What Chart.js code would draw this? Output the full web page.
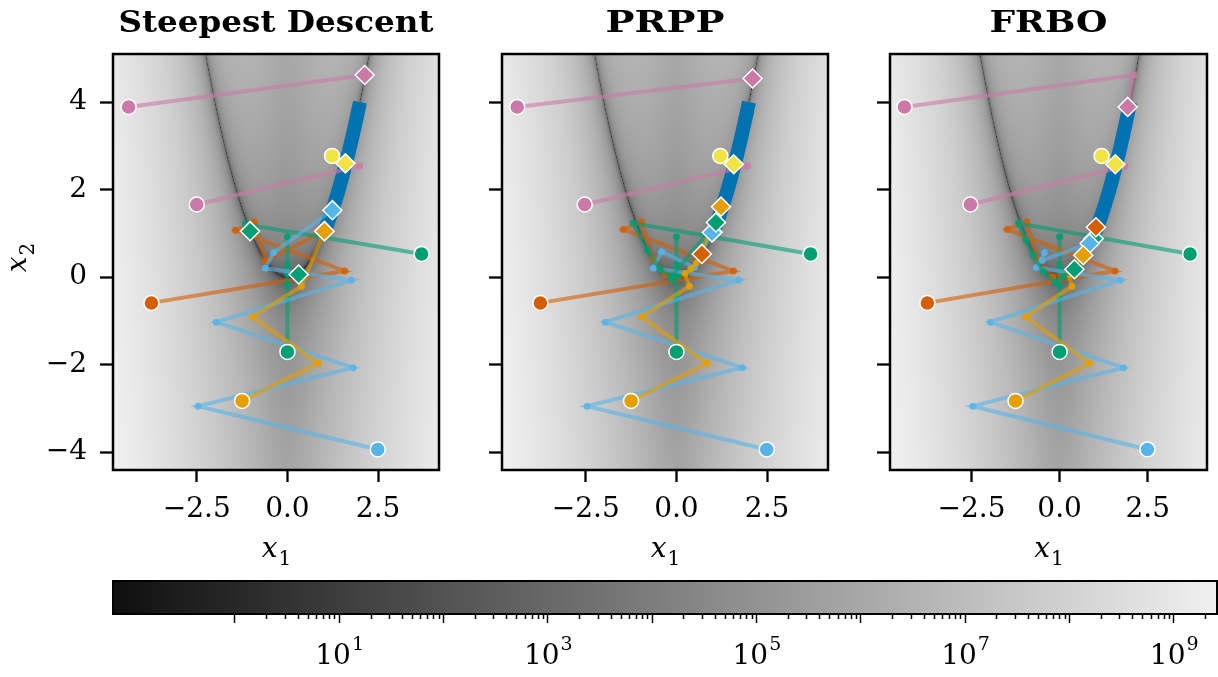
<!DOCTYPE html>
<html>
<head>
<meta charset="utf-8">
<script src="https://cdn.jsdelivr.net/npm/chart.js@4.4.1/dist/chart.umd.min.js"></script>
<style>
  body { margin: 0; background: #fff; width: 1218px; height: 677px; overflow: hidden; position: relative; }
  canvas { position: absolute; top: 0; }
</style>
</head>
<body>
<canvas id="sd" width="450" height="580" style="left:0px"></canvas>
<canvas id="pr" width="450" height="580" style="left:389px"></canvas>
<canvas id="fr" width="441" height="580" style="left:777px"></canvas>
<canvas id="cbar" width="1218" height="117" style="top:560px;left:0px"></canvas>
<script>
// axis limits and ticks
const xMin = -4.81, xMax = 4.18
const yMin = -4.41, yMax = 5.10
const xTicks = [-2.5, 0, 2.5]
const yTicks = [-4, -2, 0, 2, 4]

// colorbar
const cbarMin = 0.068, cbarMax = 2.6e9
const cbarTicks = [1, 1e1, 1e2, 1e3, 1e4, 1e5, 1e6, 1e7, 1e8, 1e9]
const cbarExp = ['', '1', '', '3', '', '5', '', '7', '', '9']

// blue band along the valley
const bandX = [1.0, 1.1, 1.2, 1.3, 1.4, 1.5, 1.6, 1.7, 1.8, 1.9, 2.0]
const bandY = [1.0, 1.21, 1.44, 1.69, 1.96, 2.25, 2.56, 2.89, 3.24, 3.61, 4.0]

// Steepest Descent runs
const sdPinkA = [[-4.38, 3.89], [2.13, 4.62]]
const sdPinkB = [[-2.50, 1.66], [1.99, 2.54]]
const sdYellow = [[1.23, 2.77], [1.60, 2.60]]
const sdGreenA = [[3.70, 0.53], [-1.16, 1.21], [-1.03, 1.05]]
const sdGreenB = [[0, -1.71], [0, 0.92], [0, -0.49], [0, 0.27], [0, -0.18], [0, 0.08], [0.31, 0.06]]
const sdVerm = [[-3.75, -0.59], [1.58, 0.14], [-1.43, 1.07], [-0.91, 1.26], [-0.61, 0.37], [1.02, 1.05]]
const sdOrange = [[-1.25, -2.83], [0.85, -1.97], [-0.96, -0.91], [0.39, -0.21], [1.02, 1.05]]
const sdSky = [[2.49, -3.94], [-2.46, -2.95], [1.81, -2.07], [-1.96, -1.03], [1.76, -0.07], [-0.61, 0.20], [-0.38, 0.56], [1.24, 1.53]]

// PRPP runs
const prPinkA = [[-4.39, 3.89], [2.10, 4.54]]
const prPinkB = [[-2.53, 1.66], [1.96, 2.54]]
const prYellow = [[1.21, 2.77], [1.58, 2.58]]
const prGreenA = [[3.70, 0.53], [-1.19, 1.23], [-0.80, 0.62], [-0.45, 0.18], [-0.15, 0.0], [0.82, 0.96], [1.09, 1.25]]
const prGreenB = [[0, -1.71], [0, 0.92], [0, -0.49], [0, 0.27], [-0.12, -0.05], [0.05, 0.04], [0.45, 0.22], [1.00, 1.03]]
const prVerm = [[-3.75, -0.59], [1.57, 0.14], [-1.46, 1.09], [-0.96, 1.26], [-0.65, 0.42], [-0.30, 0.05], [0.05, 0.02], [0.38, 0.16], [0.70, 0.53]]
const prOrange = [[-1.25, -2.83], [0.85, -1.97], [-0.96, -0.91], [0.36, -0.21], [0.23, 0.08], [0.40, 0.19], [0.55, 0.32], [1.23, 1.61]]
const prSky = [[2.49, -3.94], [-2.46, -2.95], [1.81, -2.07], [-1.96, -1.03], [1.71, -0.07], [-0.64, 0.20], [-0.41, 0.58], [0.50, 0.22], [0.98, 1.02]]

// FRBO runs
const frPinkA = [[-4.40, 3.89], [2.10, 4.62], [1.93, 3.89]]
const frPinkB = [[-2.53, 1.66], [1.85, 2.54]]
const frYellow = [[1.19, 2.77], [1.58, 2.58]]
const frGreenA = [[3.70, 0.53], [-1.16, 1.23], [-0.95, 0.85], [-0.75, 0.50], [-0.45, 0.12], [-0.12, -0.12], [0.12, 0.02], [0.42, 0.18]]
const frGreenB = [[0, -1.71], [0, 0.92], [0, -0.49], [0, 0.27], [0, -0.18], [0.05, 0.08], [0.50, 0.30], [0.97, 0.88]]
const frVerm = [[-3.75, -0.59], [1.57, 0.14], [-1.48, 1.09], [-0.93, 1.26], [-0.62, 0.40], [-0.20, 0.0], [0.30, 0.10], [1.03, 1.14]]
const frOrange = [[-1.25, -2.83], [0.85, -1.97], [-0.96, -0.91], [0.35, -0.21], [0.25, 0.06], [0.67, 0.50]]
const frSky = [[2.49, -3.94], [-2.46, -2.95], [1.81, -2.07], [-1.96, -1.03], [1.71, -0.07], [-0.66, 0.22], [-0.43, 0.56], [-0.50, 0.38], [0.85, 0.77]]

const pink = '#CC79A7', verm = '#D55E00', orange = '#E69F00', green = '#009E73'
const sky = '#56B4E9', yellow = '#F0E442', blue = '#0072B2'

// background: squared gradient norm of the Rosenbrock function, log grey scale
const grayLo = 15, grayHi = 240

Chart.defaults.font.family = '"DejaVu Serif", serif'
Chart.defaults.color = '#000'

function hexA(hex, a) {
  const n = parseInt(hex.slice(1), 16)
  return `rgba(${n >> 16},${(n >> 8) & 255},${n & 255},${a})`
}
const pts = arr => arr.map(p => ({x: p[0], y: p[1]}))
const fmt = (v, d) => (v < 0 ? '\u2212' : '') + Math.abs(v).toFixed(d)

function field(x1, x2) {
  const g = x2 - x1 * x1
  const d1 = 2 * (x1 - 1) - 400 * x1 * g
  const d2 = 200 * g
  return d1 * d1 + d2 * d2
}

const fieldPlugin = {
  id: 'field',
  beforeDatasetsDraw(chart) {
    const {ctx, chartArea: a, scales: {x, y}} = chart
    if (!chart.$field) {
      const w = Math.round(a.right - a.left), h = Math.round(a.bottom - a.top)
      const off = document.createElement('canvas')
      off.width = w; off.height = h
      const octx = off.getContext('2d')
      const img = octx.createImageData(w, h)
      const lo = Math.log10(cbarMin), hi = Math.log10(cbarMax)
      const xs = []
      for (let i = 0; i < w; i++) xs.push(x.getValueForPixel(a.left + i + 0.5))
      for (let j = 0; j < h; j++) {
        const yv = y.getValueForPixel(a.top + j + 0.5)
        for (let i = 0; i < w; i++) {
          let t = (Math.log10(field(xs[i], yv)) - lo) / (hi - lo)
          t = Math.max(0, Math.min(1, t))
          const v = grayLo + t * (grayHi - grayLo)
          const k = (j * w + i) * 4
          img.data[k] = img.data[k + 1] = img.data[k + 2] = v
          img.data[k + 3] = 255
        }
      }
      octx.putImageData(img, 0, 0)
      chart.$field = off
    }
    ctx.drawImage(chart.$field, a.left, a.top, a.right - a.left, a.bottom - a.top)
  }
}

function drawSub(ctx, main, sub, size) {
  ctx.font = `italic ${size}px "DejaVu Serif"`
  const w1 = ctx.measureText(main).width
  ctx.font = `${Math.round(size * 0.7)}px "DejaVu Serif"`
  const w2 = ctx.measureText(sub).width
  const x0 = -(w1 + w2) / 2
  ctx.textAlign = 'left'
  ctx.textBaseline = 'alphabetic'
  ctx.font = `italic ${size}px "DejaVu Serif"`
  ctx.fillText(main, x0, 0)
  ctx.font = `${Math.round(size * 0.7)}px "DejaVu Serif"`
  ctx.fillText(sub, x0 + w1 + 1, 8)
}

const framePlugin = {
  id: 'frame',
  afterDatasetsDraw(chart) {
    const {ctx, chartArea: a} = chart
    ctx.save()
    ctx.lineWidth = 2.5
    ctx.strokeStyle = '#000'
    ctx.strokeRect(a.left, a.top, a.right - a.left, a.bottom - a.top)
    ctx.restore()
  },
  afterDraw(chart, args, opts) {
    const {ctx, chartArea: a} = chart
    const cx = (a.left + a.right) / 2
    ctx.save()
    ctx.fillStyle = '#000'
    // panel title
    ctx.font = 'bold 30px "DejaVu Serif"'
    const tw = ctx.measureText(opts.title).width
    ctx.translate(cx, 32)
    ctx.scale(opts.titleWidth / tw, 1)
    ctx.textAlign = 'center'
    ctx.textBaseline = 'alphabetic'
    ctx.fillText(opts.title, 0, 0)
    ctx.restore()
    // x label
    ctx.save()
    ctx.fillStyle = '#000'
    ctx.translate(cx, 557)
    drawSub(ctx, 'x', '1', 28)
    ctx.restore()
    if (opts.yLabel) {
      ctx.save()
      ctx.fillStyle = '#000'
      ctx.translate(26, (a.top + a.bottom) / 2 - 4)
      ctx.rotate(-Math.PI / 2)
      drawSub(ctx, 'x', '2', 28)
      ctx.restore()
    }
  }
}

function makePanel(id, runs, title, titleWidth, showY, padRight) {
  const lines = [], marks = []
  runs.forEach(r => {
    const n = r.pts.length
    lines.push({
      data: pts(r.pts), showLine: true,
      borderColor: hexA(r.color, 0.6), borderWidth: 4,
      pointRadius: c => (c.dataIndex === 0 || (c.dataIndex === n - 1 && r.end)) ? 0 : 3.5,
      pointBackgroundColor: hexA(r.color, 0.85), pointBorderWidth: 0
    })
    const first = r.pts[0], last = r.pts[n - 1]
    const m = [{x: first[0], y: first[1]}]
    if (r.end) m.push({x: last[0], y: last[1]})
    marks.push({
      data: m,
      pointStyle: ['circle', 'rectRot'],
      pointRadius: [7.5, 9.5],
      pointBackgroundColor: r.color,
      pointBorderColor: '#fff',
      pointBorderWidth: 1.5
    })
  })
  const band = {
    data: bandX.map((x, i) => ({x, y: bandY[i]})), showLine: true,
    borderColor: blue, borderWidth: 14, borderCapStyle: 'butt', borderJoinStyle: 'round', pointRadius: 0
  }
  const datasets = [band, ...lines, ...marks]
  datasets.forEach((d, i) => { d.order = datasets.length - i })

  const tickFont = {size: 28, family: '"DejaVu Serif"'}
  return new Chart(document.getElementById(id), {
    type: 'scatter',
    data: {datasets},
    options: {
      responsive: false, animation: false, events: [],
      layout: {padding: {top: 54, right: padRight, left: 0, bottom: 0}},
      plugins: {
        legend: {display: false}, tooltip: {enabled: false},
        frame: {title, titleWidth, yLabel: showY}
      },
      scales: {
        x: {
          type: 'linear', min: xMin, max: xMax,
          afterBuildTicks: ax => { ax.ticks = xTicks.map(v => ({value: v})) },
          afterFit: ax => { ax.height = 110 },
          ticks: {callback: v => fmt(v, 1), font: tickFont, color: '#000', padding: 11, maxRotation: 0, autoSkip: false},
          grid: {drawOnChartArea: false, tickLength: 12, tickWidth: 2.3, tickColor: '#000'},
          border: {display: false}
        },
        y: {
          type: 'linear', min: yMin, max: yMax,
          afterBuildTicks: ax => { ax.ticks = yTicks.map(v => ({value: v})) },
          afterFit: ax => { ax.width = 113 },
          ticks: {callback: v => showY ? fmt(v, 0) : '', font: tickFont, color: '#000', padding: 13, autoSkip: false},
          grid: {drawOnChartArea: false, tickLength: 13, tickWidth: 2.3, tickColor: '#000'},
          border: {display: false}
        }
      }
    },
    plugins: [fieldPlugin, framePlugin]
  })
}

makePanel('sd', [
  {pts: sdVerm, color: verm, end: true},
  {pts: sdGreenB, color: green, end: true},
  {pts: sdGreenA, color: green, end: true},
  {pts: sdSky, color: sky, end: true},
  {pts: sdOrange, color: orange, end: true},
  {pts: sdPinkA, color: pink, end: true},
  {pts: sdPinkB, color: pink, end: false},
  {pts: sdYellow, color: yellow, end: true}
], 'Steepest Descent', 315, true, 8)

makePanel('pr', [
  {pts: prVerm, color: verm, end: true},
  {pts: prGreenB, color: green, end: true},
  {pts: prSky, color: sky, end: true},
  {pts: prGreenA, color: green, end: true},
  {pts: prOrange, color: orange, end: true},
  {pts: prPinkA, color: pink, end: true},
  {pts: prPinkB, color: pink, end: false},
  {pts: prYellow, color: yellow, end: true}
], 'PRPP', 119, false, 8)

makePanel('fr', [
  {pts: frGreenB, color: green, end: true},
  {pts: frVerm, color: verm, end: true},
  {pts: frSky, color: sky, end: true},
  {pts: frOrange, color: orange, end: true},
  {pts: frGreenA, color: green, end: true},
  {pts: frPinkA, color: pink, end: true},
  {pts: frPinkB, color: pink, end: false},
  {pts: frYellow, color: yellow, end: true}
], 'FRBO', 118, false, 1.5)

// colorbar
const cbarPlugin = {
  id: 'cbarFill',
  beforeDatasetsDraw(chart) {
    const {ctx, chartArea: a} = chart
    const grad = ctx.createLinearGradient(a.left, 0, a.right, 0)
    grad.addColorStop(0, `rgb(${grayLo},${grayLo},${grayLo})`)
    grad.addColorStop(1, `rgb(${grayHi},${grayHi},${grayHi})`)
    ctx.save()
    ctx.fillStyle = grad
    ctx.fillRect(a.left, a.top, a.right - a.left, a.bottom - a.top)
    ctx.restore()
  },
  afterDraw(chart) {
    const {ctx, chartArea: a, scales: {x}} = chart
    ctx.save()
    ctx.strokeStyle = '#000'
    ctx.lineWidth = 1.5
    ctx.beginPath()
    for (let k = 0; k <= 9; k++) {
      for (let m = 2; m <= 9; m++) {
        const v = m * Math.pow(10, k)
        if (v < cbarMin || v > cbarMax) continue
        const px = Math.round(x.getPixelForValue(v)) + 0.5
        ctx.moveTo(px, a.bottom)
        ctx.lineTo(px, a.bottom + 5)
      }
    }
    ctx.stroke()
    ctx.lineWidth = 2
    ctx.strokeRect(a.left, a.top, a.right - a.left, a.bottom - a.top)
    // decade labels: 10 with raised exponent, below the axis
    ctx.fillStyle = '#000'
    ctx.textBaseline = 'alphabetic'
    ctx.textAlign = 'left'
    const base = a.bottom + 50
    cbarTicks.forEach((v, i) => {
      if (!cbarExp[i]) return
      const px = x.getPixelForValue(v)
      ctx.font = '28px "DejaVu Serif"'
      const w1 = ctx.measureText('10').width
      ctx.font = '19px "DejaVu Serif"'
      const w2 = ctx.measureText(cbarExp[i]).width
      const x0 = px - (w1 + w2) / 2
      ctx.font = '28px "DejaVu Serif"'
      ctx.fillText('10', x0, base)
      ctx.font = '19px "DejaVu Serif"'
      ctx.fillText(cbarExp[i], x0 + w1 + 1, base - 14)
    })
    ctx.restore()
  }
}

new Chart(document.getElementById('cbar'), {
  type: 'scatter',
  data: {datasets: []},
  options: {
    responsive: false, animation: false, events: [],
    layout: {padding: {top: 21, left: 113, right: 1, bottom: 0}},
    plugins: {legend: {display: false}, tooltip: {enabled: false}},
    scales: {
      x: {
        type: 'logarithmic', min: cbarMin, max: cbarMax,
        afterBuildTicks: ax => { ax.ticks = cbarTicks.map(v => ({value: v})) },
        afterFit: ax => { ax.height = 63 },
        ticks: {callback: () => '', padding: 0, maxRotation: 0, autoSkip: false},
        grid: {drawOnChartArea: false, tickLength: 9, tickWidth: 1.5, tickColor: '#000'},
        border: {display: false}
      },
      y: {display: false, min: 0, max: 1}
    }
  },
  plugins: [cbarPlugin]
})
</script>
</body>
</html>
